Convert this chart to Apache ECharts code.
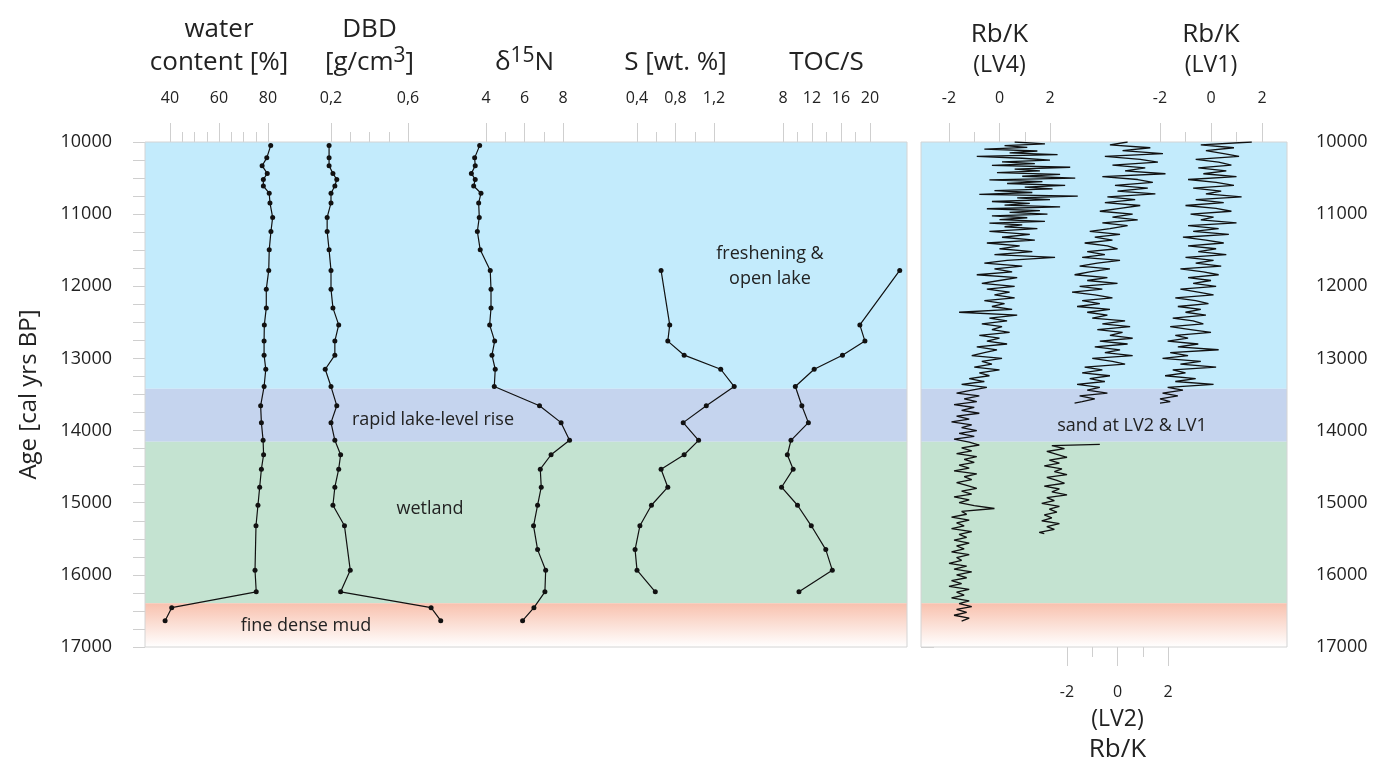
<!DOCTYPE html>
<html>
<head>
<meta charset="utf-8">
<script src="https://cdn.jsdelivr.net/npm/echarts@6.0.0/dist/echarts.min.js"></script>
<style>
  html, body { margin: 0; padding: 0; background: #fff; }
  #chart { width: 1373px; height: 759px; }
</style>
</head>
<body>
<div id="chart"></div>
<script>
// sample ages (cal yrs BP) and values
const waterAge = [10050, 10220, 10330, 10435, 10520, 10610, 10710, 10845, 11045, 11240, 11495, 11780, 12040, 12300, 12535, 12760, 12955, 13150, 13390, 13655, 13890, 14135, 14335, 14535, 14785, 15035, 15320, 15935, 16235, 16455, 16635];
const waterVal = [81.1, 79.5, 77.6, 79.7, 78.1, 78.1, 80.5, 80.8, 81.9, 81.2, 80.5, 80.3, 79.3, 79.3, 78.5, 78.4, 78.4, 79.1, 78.4, 77.0, 77.3, 78.0, 78.2, 77.3, 76.6, 75.9, 75.1, 74.7, 75.2, 40.7, 38.0];
const dbdVal = [0.19, 0.19, 0.19, 0.21, 0.23, 0.22, 0.20, 0.20, 0.18, 0.18, 0.19, 0.20, 0.20, 0.21, 0.24, 0.22, 0.22, 0.17, 0.20, 0.23, 0.20, 0.22, 0.25, 0.24, 0.22, 0.21, 0.27, 0.30, 0.25, 0.72, 0.77];

const n15Age = [10050, 10220, 10330, 10435, 10520, 10610, 10710, 10845, 11045, 11240, 11495, 11780, 12040, 12300, 12535, 12760, 12955, 13150, 13390, 13655, 13890, 14135, 14335, 14535, 14785, 15035, 15320, 15650, 15935, 16235, 16455, 16635];
const n15Val = [3.67, 3.41, 3.44, 3.24, 3.44, 3.36, 3.74, 3.62, 3.65, 3.55, 3.70, 4.22, 4.26, 4.26, 4.19, 4.45, 4.31, 4.48, 4.43, 6.78, 7.90, 8.34, 7.38, 6.82, 6.87, 6.68, 6.47, 6.68, 7.10, 7.06, 6.49, 5.90];

const sAge = [11780, 12535, 12760, 12955, 13150, 13390, 13655, 13890, 14135, 14335, 14535, 14785, 15035, 15320, 15650, 15935, 16235];
const sVal = [0.65, 0.74, 0.72, 0.89, 1.27, 1.41, 1.12, 0.88, 1.04, 0.89, 0.65, 0.72, 0.55, 0.43, 0.38, 0.40, 0.59];
const tocsVal = [24.1, 18.6, 19.3, 16.2, 12.3, 9.7, 10.6, 11.5, 9.1, 8.6, 9.4, 7.8, 10.0, 11.9, 13.9, 14.8, 10.2];

// XRF Rb/K (LV4)
const lv4Age = [
  10000, 10025, 10050, 10075, 10100, 10125, 10150, 10175, 10200, 10225,
  10250, 10275, 10300, 10325, 10350, 10375, 10400, 10425, 10450, 10475,
  10500, 10525, 10550, 10575, 10600, 10625, 10650, 10675, 10700, 10725,
  10750, 10775, 10800, 10825, 10850, 10875, 10900, 10925, 10950, 10975,
  11000, 11025, 11050, 11075, 11100, 11125, 11150, 11175, 11200,
  11240, 11280, 11320, 11360, 11400, 11440, 11480, 11520, 11560, 11600,
  11640, 11680, 11720, 11760, 11800, 11840, 11880, 11920, 11960, 12000,
  12040, 12080, 12120, 12160, 12200, 12240, 12280, 12320, 12360, 12400,
  12440, 12480, 12520, 12560, 12600, 12640, 12680, 12720, 12760, 12800,
  12840, 12880, 12920, 12960, 13000, 13040, 13080, 13120, 13160, 13200,
  13240, 13280, 13320, 13360, 13400, 13440, 13480, 13520, 13560, 13600,
  13640, 13680, 13720, 13760, 13800, 13840, 13880, 13920, 13960, 14000,
  14040, 14080, 14120, 14160, 14200, 14240, 14280, 14320, 14360, 14400,
  14440, 14480, 14520, 14560, 14600, 14640, 14680, 14720, 14760, 14800,
  14840, 14880, 14920, 14960, 15000, 15040, 15080, 15120, 15160, 15200,
  15240, 15280, 15320, 15360, 15400, 15440, 15480, 15520, 15560, 15600,
  15640, 15680, 15720, 15760, 15800, 15840, 15880, 15920, 15960, 16000,
  16040, 16080, 16120, 16160, 16200, 16240, 16280, 16320, 16360, 16400,
  16440, 16480, 16520, 16560, 16600, 16640];
const lv4Val = [
  0.6, 1.8, 0.2, 1.1, -0.6, 1.5, 0.4, 2.3, -0.9, 0.9,
  2.0, 0.1, 1.4, -0.3, 2.8, 0.6, 1.6, -0.1, 2.4, 0.9,
  3.0, -0.4, 1.7, 0.3, 2.6, 1.0, 2.1, -0.2, 1.3, -0.8,
  3.1, 0.7, 2.0, -0.3, 1.2, 0.2, 2.4, -0.5, 1.6, 0.4,
  1.9, -0.3, 1.1, 0.0, 1.8, -0.4, 0.9, 0.2, 1.5,
  -0.4, 1.2, 0.1, 1.4, -0.5, 0.8, 0.0, 1.3, -0.2, 2.2,
  0.3, -0.6, 0.9, -0.2, 0.5, -0.9, 0.7, 0.0, -0.7, 0.6,
  -0.5, 0.4, -0.2, 0.6, -0.6, 0.2, -0.3, 0.5, -1.6, 0.7,
  -0.4, 0.3, -0.7, 0.1, -0.3, 0.4, -0.8, 0.0, -0.5, 0.3,
  -0.9, -0.1, -0.6, -1.1, 0.1, -0.7, -0.3, -1.0, 0.0, -0.8,
  -0.4, -1.2, -0.6, -1.5, -0.5, -1.1, -1.7, -0.8, -1.4, -0.9,
  -1.8, -1.0, -1.5, -0.8, -1.7, -1.2, -1.9, -1.1, -1.5, -0.9,
  -1.6, -1.0, -1.8, -1.2, -0.8, -1.5, -1.1, -1.7, -0.9, -1.4,
  -1.0, -1.6, -1.2, -1.8, -0.9, -1.4, -1.1, -1.7, -1.3, -0.9,
  -1.5, -1.1, -1.8, -1.2, -1.6, -1.0, -0.2, -1.5, -1.3, -1.9,
  -1.2, -1.7, -1.4, -1.9, -1.1, -1.6, -1.3, -1.8, -1.2, -1.7,
  -1.4, -1.9, -1.2, -1.7, -1.5, -2.0, -1.3, -1.8, -1.1, -1.7,
  -1.3, -1.9, -1.5, -2.0, -1.2, -1.7, -1.4, -1.9, -1.2, -1.6,
  -1.1, -1.7, -1.3, -1.8, -1.2, -1.5];

// XRF Rb/K (LV2), upper and lower segments
const lv2Age = [
  10000, 10040, 10080, 10120, 10160, 10200, 10240, 10280, 10320, 10360,
  10400, 10440, 10480, 10520, 10560, 10600, 10640, 10680, 10720, 10760,
  10800, 10840, 10880, 10920, 10960, 11000, 11040, 11080, 11120, 11160,
  11200, 11240, 11280, 11320, 11360, 11400, 11440, 11480, 11520, 11560,
  11600, 11640, 11680, 11720, 11760, 11800, 11840, 11880, 11920, 11960,
  12000, 12040, 12080, 12120, 12160, 12200, 12240, 12280, 12320, 12360,
  12400, 12440, 12480, 12520, 12560, 12600, 12640, 12680, 12720, 12760,
  12800, 12840, 12880, 12920, 12960, 13000, 13040, 13080, 13120, 13160,
  13200, 13240, 13280, 13320, 13360, 13400, 13440, 13480, 13520, 13560,
  13600, 13620];
const lv2Val = [
  0.4, -0.3, 1.3, 0.2, 1.8, -0.5, 0.9, 1.6, -0.2, 1.1,
  0.3, 1.9, -0.6, 0.8, 1.4, -0.1, 1.2, 0.0, 1.5, -0.4,
  0.7, -0.5, 0.9, 0.1, -0.7, 0.6, -0.2, 0.8, -0.6, 0.4,
  -0.3, -1.1, 0.1, -0.9, -0.2, -1.3, -0.4, 0.0, -1.2, -0.5,
  -1.4, 0.1, -0.8, -1.5, -0.3, -1.1, -1.7, -0.4, -1.2, 0.0,
  -1.5, -0.6, -1.8, -0.9, -0.2, -1.4, -0.7, -1.6, -0.3, -1.2,
  -0.4, -1.0, 0.3, -0.6, 0.5, -0.8, 0.2, -0.3, 0.6, -0.7,
  0.4, -0.9, 0.1, -0.5, 0.6, -1.0, -0.2, 0.3, -1.3, -0.6,
  -1.4, -0.3, -1.1, -0.5, -1.6, -0.7, -1.2, -0.4, -1.5, -0.9,
  -1.4, -1.7];
const lv2bAge = [14190, 14210, 14250, 14290, 14330, 14370, 14410, 14450, 14490, 14530, 14570, 14610, 14650, 14690, 14730, 14770, 14810, 14850, 14890, 14930, 14970, 15010, 15050, 15090, 15130, 15170, 15210, 15250, 15290, 15330, 15370, 15410, 15430];
const lv2bVal = [-0.7, -2.6, -2.1, -2.8, -2.4, -2.0, -2.7, -2.3, -2.9, -2.2, -2.5, -2.0, -2.8, -2.4, -2.1, -2.9, -2.3, -2.6, -2.0, -2.8, -2.5, -3.0, -2.3, -2.7, -2.4, -2.9, -2.6, -3.0, -2.3, -2.8, -2.5, -3.1, -2.9];

// XRF Rb/K (LV1)
const lv1Age = lv2Age;
const lv1Val = [
  1.6, -0.4, 0.9, -0.2, 0.5, 1.1, -0.6, 0.3, 0.8, -0.5,
  0.6, -0.3, 1.0, -0.9, 0.2, 0.9, -0.7, 0.4, -0.2, 1.2,
  -0.6, 0.5, -1.0, 0.2, 0.8, -0.8, 0.1, -0.4, 1.0, -0.9,
  0.3, -0.7, 0.7, -1.1, -0.2, 0.5, -0.9, 0.2, -0.5, 0.6,
  -1.0, 0.1, -0.6, 0.4, -1.2, -0.3, 0.3, -0.9, 0.0, -0.7,
  0.2, -1.2, -0.5, 0.1, -1.4, -0.6, -0.1, -1.3, -0.4, -1.0,
  -0.2, -1.5, -0.7, -0.3, -1.6, -0.8, 0.0, -1.4, -0.9, -1.7,
  -0.5, -1.3, 0.3, -1.6, -0.9, -1.9, -0.4, -1.2, 0.2, -1.5,
  -1.0, -1.8, -0.6, -1.4, 0.1, -1.7, -1.1, -1.9, -1.3, -2.0,
  -1.6, -2.0];

// zones: [from, to]
const zoneLake = [10000, 13420];
const zoneRise = [13420, 14155];
const zoneWetland = [14155, 16395];
const zoneMud = [16395, 17000];

const FONT = "'Open Sans', 'Noto Sans', sans-serif";
const INK = '#222';
const TICK = '#cfcfcf';

const pairs = (vals, ages) => vals.map((v, i) => [v, ages[i]]);
const comma = (v) => String(Math.round(v * 10) / 10).replace('.', ',');

const titleRich = {
  m: { fontSize: 26, lineHeight: 33, fontFamily: FONT, color: INK },
  s: { fontSize: 21, lineHeight: 17, verticalAlign: 'top', fontFamily: FONT, color: INK },
  a: { fontSize: 26, lineHeight: 30, fontFamily: FONT, color: INK },
  b: { fontSize: 23, lineHeight: 30, fontFamily: FONT, color: INK }
};

// each track: tick range and its pixel span, plus a wider data range on the same scale
const tracks = [
  { min: 40, max: 80, left: 170, width: 98, dmin: 30, dmax: 90, step: 20, minor: 4, name: 'water\ncontent [%]', gap: 63 },
  { min: 0.2, max: 0.6, left: 331, width: 77, dmin: 0, dmax: 1, step: 0.4, minor: 4, name: '{m|DBD}\n{m|[g/cm}{s|3}{m|]}', gap: 63, fmt: comma },
  { min: 4, max: 8, left: 486, width: 77, dmin: 2, dmax: 10, step: 2, minor: 2, name: '{m|δ}{s|15}{m|N}', gap: 63 },
  { min: 0.4, max: 1.2, left: 637, width: 77, dmin: 0, dmax: 1.6, step: 0.4, minor: 2, name: 'S [wt. %]', gap: 63, fmt: comma },
  { min: 8, max: 20, left: 783, width: 87, dmin: 4, dmax: 28, step: 4, minor: 2, name: 'TOC/S', gap: 63 },
  { min: -2, max: 2, left: 949, width: 101, dmin: -4, dmax: 4, step: 2, minor: 2, name: '{a|Rb/K}\n{b|(LV4)}', gap: 62 },
  { min: -2, max: 2, left: 1160, width: 102, dmin: -4, dmax: 4, step: 2, minor: 2, name: '{a|Rb/K}\n{b|(LV1)}', gap: 62 },
  { min: -2, max: 2, left: 1067, width: 101, dmin: -4, dmax: 4, step: 2, minor: 2, name: '{b|(LV2)}\n{a|Rb/K}', gap: 55, pos: 'bottom' }
];

const panel = (left, width) => ({
  left: left, top: 142, width: width, height: 505, show: true, z: 3,
  borderColor: '#d4d4d4', borderWidth: 1, backgroundColor: 'transparent', outerBoundsMode: 'none'
});
const plain = (left, width) => ({ left: left, top: 142, width: width, height: 505, outerBoundsMode: 'none' });

const tickAxis = (grid, t) => ({
  type: 'value', gridIndex: grid, position: t.pos || 'top',
  min: t.min, max: t.max, interval: t.step,
  axisLine: { show: false },
  axisTick: { show: true, length: 19, lineStyle: { color: TICK } },
  minorTick: { show: true, splitNumber: t.minor, length: 10, lineStyle: { color: TICK } },
  splitLine: { show: false },
  axisLabel: { margin: t.pos === 'bottom' ? 37 : 36, fontSize: 16, color: INK, fontFamily: FONT,
               formatter: t.fmt || ((v) => String(v)), showMinLabel: true, showMaxLabel: true },
  name: t.name, nameLocation: 'middle', nameGap: t.gap,
  nameTextStyle: { rich: titleRich, fontSize: 26, lineHeight: 33, color: INK, fontFamily: FONT }
});

const hidden = (grid, min, max) => ({ type: 'value', gridIndex: grid, min: min, max: max, show: false });
const hiddenAge = (grid) => ({ type: 'value', gridIndex: grid, min: 10000, max: 17000, inverse: true, show: false });

const ageAxis = (grid, pos, margin, len) => ({
  type: 'value', gridIndex: grid, position: pos, min: 10000, max: 17000, interval: 1000, inverse: true,
  axisLine: { show: false },
  axisTick: { show: true, length: len, lineStyle: { color: TICK } },
  minorTick: { show: true, splitNumber: 4, length: len, lineStyle: { color: TICK } },
  splitLine: { show: false },
  axisLabel: { margin: margin, fontSize: 18, color: INK, fontFamily: FONT, formatter: (v) => String(v),
               showMinLabel: true, showMaxLabel: true }
});

const bands = (idx) => ({
  type: 'line', xAxisIndex: idx, yAxisIndex: idx, data: [[0.5, 10000]], symbol: 'none',
  lineStyle: { opacity: 0 }, silent: true, z: 1,
  markArea: {
    silent: true,
    data: [
      [{ yAxis: zoneLake[0], itemStyle: { color: '#c3ebfc' } }, { yAxis: zoneLake[1] }],
      [{ yAxis: zoneRise[0], itemStyle: { color: '#c5d4ee' } }, { yAxis: zoneRise[1] }],
      [{ yAxis: zoneWetland[0], itemStyle: { color: '#c4e3d1' } }, { yAxis: zoneWetland[1] }],
      [{ yAxis: zoneMud[0], itemStyle: { color: new echarts.graphic.LinearGradient(0, 0, 0, 1, [
        { offset: 0, color: '#f8c1ae' }, { offset: 1, color: '#ffffff' }]) } }, { yAxis: zoneMud[1] }]
    ]
  }
});

const dots = (idx, data) => ({
  type: 'line', xAxisIndex: idx, yAxisIndex: idx, data: data, z: 4,
  symbol: 'circle', symbolSize: 5, showSymbol: true,
  lineStyle: { color: '#111', width: 1.2 }, itemStyle: { color: '#111' }
});

const trace = (idx, data) => ({
  type: 'line', xAxisIndex: idx, yAxisIndex: idx, data: data, z: 4,
  symbol: 'none', lineStyle: { color: '#111', width: 1.3 }
});

const note = (x, y, text) => ({
  type: 'text', x: x, y: y, z: 10,
  style: { text: text, fill: INK, fontSize: 18, fontFamily: FONT, align: 'center', verticalAlign: 'middle', lineHeight: 25 }
});

const getOption = () => {
  const grids = [panel(145, 762), panel(921, 366)];
  const xAxes = [hidden(0, 0, 1), hidden(1, 0, 1)];
  const yAxes = [ageAxis(0, 'left', 33, 12), ageAxis(1, 'right', 29, 13)];
  yAxes[0].name = 'Age [cal yrs BP]';
  yAxes[0].nameLocation = 'middle';
  yAxes[0].nameGap = 104;
  yAxes[0].nameTextStyle = { fontSize: 24, color: INK, fontFamily: FONT };

  // tick grids (2..9) then data grids (10..17)
  tracks.forEach((t, i) => {
    grids.push(plain(t.left, t.width));
    xAxes.push(tickAxis(2 + i, t));
    yAxes.push(hiddenAge(2 + i));
  });
  tracks.forEach((t, i) => {
    const ppu = t.width / (t.max - t.min);
    grids.push(plain(t.left + (t.dmin - t.min) * ppu, (t.dmax - t.dmin) * ppu));
    xAxes.push(hidden(10 + i, t.dmin, t.dmax));
    yAxes.push(hiddenAge(10 + i));
  });

  return {
    animation: false,
    textStyle: { fontFamily: FONT },
    grid: grids,
    xAxis: xAxes,
    yAxis: yAxes,
    series: [
      bands(0), bands(1),
      dots(10, pairs(waterVal, waterAge)),
      dots(11, pairs(dbdVal, waterAge)),
      dots(12, pairs(n15Val, n15Age)),
      dots(13, pairs(sVal, sAge)),
      dots(14, pairs(tocsVal, sAge)),
      trace(15, pairs(lv4Val, lv4Age)),
      trace(16, pairs(lv1Val, lv1Age)),
      trace(17, pairs(lv2Val, lv2Age)),
      trace(17, pairs(lv2bVal, lv2bAge))
    ],
    graphic: [
      note(770, 266, 'freshening &\nopen lake'),
      note(433, 420, 'rapid lake-level rise'),
      note(430, 509, 'wetland'),
      note(306, 626, 'fine dense mud'),
      note(1132, 426, 'sand at LV2 & LV1')
    ]
  };
};

let chart;
document.addEventListener('DOMContentLoaded', function () {
  chart = echarts.init(document.getElementById('chart'));
  chart.setOption(getOption());
});
window.addEventListener('resize', function () {
  chart.resize();
});
</script>
</body>
</html>
